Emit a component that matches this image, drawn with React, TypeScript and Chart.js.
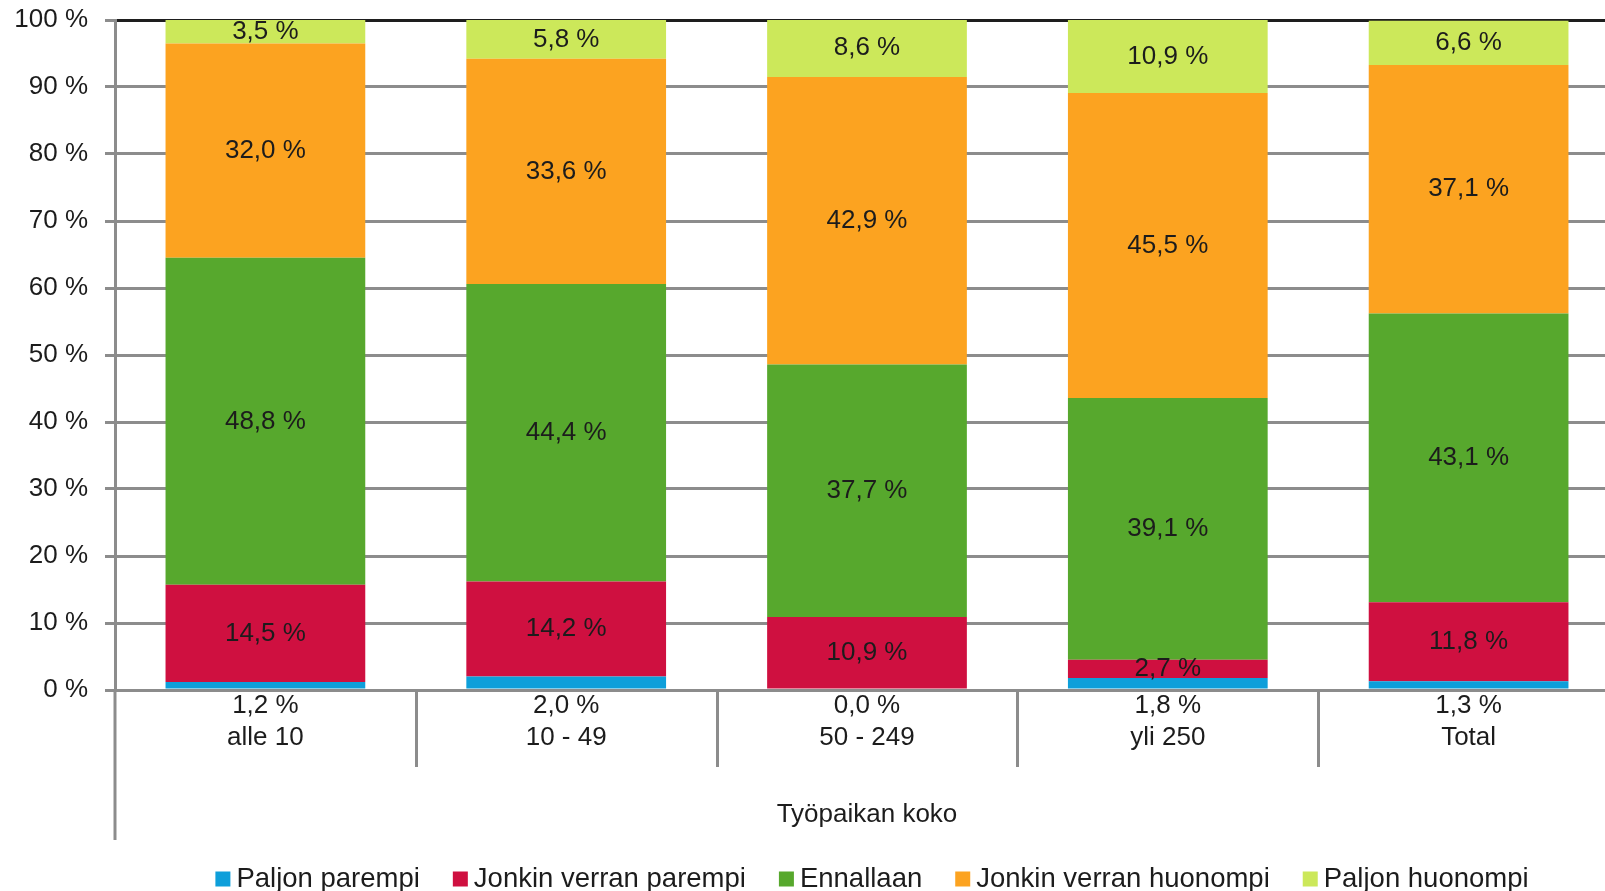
import React, { useEffect, useRef } from "react";
import { Chart, registerables } from "chart.js";

Chart.register(...registerables);

const categories = ["alle 10", "10 - 49", "50 - 249", "yli 250", "Total"];
const seriesNames = ["Paljon parempi", "Jonkin verran parempi", "Ennallaan", "Jonkin verran huonompi", "Paljon huonompi"];
const seriesColors = ["#0E9FDA", "#CF1040", "#57A82D", "#FCA320", "#CCE85A"];
const paljonParempi = [1.2, 2.0, 0.0, 1.8, 1.3];
const jonkinParempi = [14.5, 14.2, 10.9, 2.7, 11.8];
const ennallaan = [48.8, 44.4, 37.7, 39.1, 43.1];
const jonkinHuonompi = [32.0, 33.6, 42.9, 45.5, 37.1];
const paljonHuonompi = [3.5, 5.8, 8.6, 10.9, 6.6];
const yTickLabels = ["0 %", "10 %", "20 %", "30 %", "40 %", "50 %", "60 %", "70 %", "80 %", "90 %", "100 %"];
const axisTitle = "Työpaikan koko";

const FONT = "'Liberation Sans', Arial, sans-serif";
const TEXT = "#1c1c1c";
const GRID = "#8c8c8c";

const fmt = (v: number) => v.toFixed(1).replace(".", ",") + " %";

const extrasPlugin = {
  id: "extras",
  afterDatasetsDraw(chart: any) {
    const ctx = chart.ctx;
    ctx.save();
    ctx.font = `26px ${FONT}`;
    ctx.fillStyle = TEXT;
    ctx.textAlign = "center";
    ctx.textBaseline = "middle";
    chart.data.datasets.forEach((ds: any, di: number) => {
      if (di === 0) return;
      const meta = chart.getDatasetMeta(di);
      meta.data.forEach((el: any, i: number) => {
        const v = ds.data[i];
        if (!v) return;
        ctx.fillText(fmt(v), el.x, (el.y + el.base) / 2);
      });
    });
    ctx.restore();
  },
  afterDraw(chart: any) {
    const ctx = chart.ctx;
    const area = chart.chartArea;
    const xs = chart.scales.x;
    ctx.save();
    ctx.strokeStyle = GRID;
    ctx.lineWidth = 3;
    ctx.beginPath();
    ctx.moveTo(area.left, area.bottom);
    ctx.lineTo(area.left, xs.bottom);
    ctx.stroke();
    const n = chart.data.labels.length;
    for (let k = 1; k <= n; k++) {
      const x = Math.round((xs.getPixelForValue(k - 1) + xs.getPixelForValue(k)) / 2) + 0.5;
      ctx.beginPath();
      ctx.moveTo(x, area.bottom);
      ctx.lineTo(x, area.bottom + 77);
      ctx.stroke();
    }
    ctx.font = `27.5px ${FONT}`;
    ctx.textBaseline = "middle";
    ctx.textAlign = "left";
    const box = 15, gapText = 6, gapItem = 33;
    const items = chart.data.datasets.map((ds: any) => ({
      label: ds.label,
      color: ds.backgroundColor,
      w: ctx.measureText(ds.label).width,
    }));
    const total = items.reduce((s: number, it: any) => s + box + gapText + it.w, 0) + gapItem * (items.length - 1);
    let x = (area.left + area.right) / 2 + 5 - total / 2;
    const y = 879;
    items.forEach((it: any) => {
      ctx.fillStyle = it.color;
      ctx.fillRect(x, y - box / 2, box, box);
      ctx.fillStyle = TEXT;
      ctx.fillText(it.label, x + box + gapText, y);
      x += box + gapText + it.w + gapItem;
    });
    ctx.restore();
  },
};

export default function App() {
  const ref = useRef<HTMLCanvasElement>(null);
  useEffect(() => {
    if (!ref.current) return;
    const values = [paljonParempi, jonkinParempi, ennallaan, jonkinHuonompi, paljonHuonompi];
    const labels = categories.map((c, i) => [fmt(paljonParempi[i]), c]);
    const chart = new Chart(ref.current, {
      type: "bar",
      data: {
        labels,
        datasets: values.map((d, i) => ({
          label: seriesNames[i],
          data: d,
          backgroundColor: seriesColors[i],
          borderWidth: 0,
          barPercentage: 0.664,
          categoryPercentage: 1,
        })),
      },
      options: {
        responsive: false,
        animation: false,
        devicePixelRatio: 1,
        layout: { padding: { top: 20, left: 0, right: 6, bottom: 51 } },
        plugins: { legend: { display: false }, tooltip: { enabled: false } },
        scales: {
          x: {
            stacked: true,
            grid: { display: false, drawTicks: false },
            border: { display: false },
            ticks: {
              padding: 0,
              color: TEXT,
              font: { family: FONT, size: 26, lineHeight: 1.23 },
              maxRotation: 0,
              autoSkip: false,
            },
            title: {
              display: true,
              text: axisTitle,
              color: TEXT,
              font: { family: FONT, size: 26, lineHeight: 1.2 },
              padding: { top: 0, bottom: 10 },
            },
            afterFit: (s: any) => { s.height = 150; s.paddingLeft = 0; s.paddingRight = 0; },
          },
          y: {
            stacked: true,
            min: 0,
            max: 100,
            ticks: {
              stepSize: 10,
              padding: 17,
              color: TEXT,
              font: { family: FONT, size: 26 },
              callback: (_v: any, i: number) => yTickLabels[i],
            },
            grid: {
              color: (c: any) => (c.tick && c.tick.value === 100 ? "#1e1e1e" : GRID),
              tickColor: GRID,
              lineWidth: 3,
              tickLength: 10,
            },
            border: { color: GRID, width: 3 },
            afterFit: (s: any) => { s.width = 115; s.paddingTop = 0; s.paddingBottom = 0; },
          },
        },
      },
      plugins: [extrasPlugin],
    });
    return () => chart.destroy();
  }, []);
  return (
    <div style={{ position: "fixed", left: 0, top: 0, width: 1605, height: 891, overflow: "hidden", background: "#fff" }}>
      <canvas ref={ref} width={1625} height={891} style={{ width: 1625, height: 891, display: "block" }} />
    </div>
  );
}
